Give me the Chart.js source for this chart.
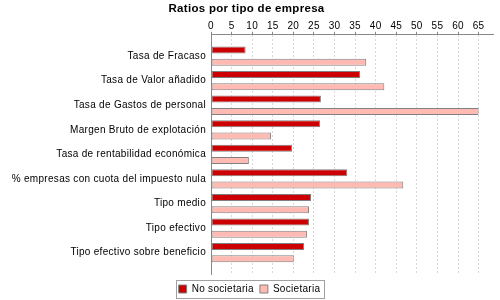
<!DOCTYPE html>
<html lang="es">
<head>
    <meta charset="UTF-8">
    <title>Ratios por tipo de empresa</title>
    <script src="https://cdn.jsdelivr.net/npm/chart.js"></script>
    <style>
        html, body { margin: 0; padding: 0; background: #fff; }
        .chart-box { width: 500px; height: 300px; }
    </style>
</head>
<body>
    <div class="chart-box">
        <canvas id="ratiosChart"></canvas>
    </div>

    <script>
        const categories = [
            'Tasa de Fracaso',
            'Tasa de Valor añadido',
            'Tasa de Gastos de personal',
            'Margen Bruto de explotación',
            'Tasa de rentabilidad económica',
            '% empresas con cuota del impuesto nula',
            'Tipo medio',
            'Tipo efectivo',
            'Tipo efectivo sobre beneficio'
        ];
        const noSocietaria = [8.4, 36.2, 26.7, 26.5, 19.7, 33.1, 24.3, 23.8, 22.6];
        const societaria = [37.7, 42.1, 65.0, 14.6, 9.2, 46.7, 23.8, 23.3, 20.1];
        const seriesNames = ['No societaria', 'Societaria'];

        const fontFamily = '"Liberation Sans", Arial, sans-serif';

        // text in the original is drawn a little wider than normal
        const textSpacing = {
            id: 'textSpacing',
            beforeUpdate(chart) { chart.ctx.letterSpacing = '0.3px'; },
            beforeDraw(chart) { chart.ctx.letterSpacing = '0.3px'; }
        };

        // category axis keeps a small empty margin at both ends of the plot,
        // and the legend sits a bit lower / further right than Chart.js puts it
        const categoryMargin = {
            id: 'categoryMargin',
            afterLayout(chart) {
                const y = chart.scales.y;
                y._startPixel = y.top + 9;
                y._endPixel = y.bottom - 9;
                y._length = y._endPixel - y._startPixel;
                chart.legend.top += 4;
                chart.legend.bottom += 4;
                chart.legend.left += 3;
                chart.legend.right += 3;
            }
        };

        // thin grey frame round the legend
        const legendFrame = {
            id: 'legendFrame',
            afterDraw(chart) {
                const boxes = chart.legend.legendHitBoxes;
                if (!boxes || !boxes.length) return;
                const left = Math.min(...boxes.map(b => b.left)) - 3;
                const right = Math.max(...boxes.map(b => b.left + b.width)) + 3;
                const top = Math.min(...boxes.map(b => b.top)) - 4;
                const bottom = Math.max(...boxes.map(b => b.top + b.height)) + 4;
                const ctx = chart.ctx;
                ctx.save();
                ctx.strokeStyle = '#a0a0a0';
                ctx.lineWidth = 1;
                ctx.strokeRect(Math.round(left) + 0.5, Math.round(top) + 0.5,
                    Math.round(right - left), Math.round(bottom - top));
                ctx.restore();
            }
        };

        const ctx = document.getElementById('ratiosChart').getContext('2d');
        new Chart(ctx, {
            type: 'bar',
            data: {
                labels: categories,
                datasets: [{
                    label: seriesNames[0],
                    data: noSocietaria,
                    backgroundColor: '#cc0000',
                    borderColor: '#808080',
                    borderWidth: 1,
                    borderSkipped: false
                },
                {
                    label: seriesNames[1],
                    data: societaria,
                    backgroundColor: '#ffbbb3',
                    borderColor: '#808080',
                    borderWidth: 1,
                    borderSkipped: false
                }]
            },
            options: {
                indexAxis: 'y',
                responsive: true,
                maintainAspectRatio: false,
                animation: false,
                layout: {
                    padding: { left: 0, right: 7, top: 2, bottom: 0 }
                },
                scales: {
                    x: {
                        position: 'top',
                        min: 0,
                        max: 68.5,
                        ticks: {
                            stepSize: 5,
                            includeBounds: false,
                            color: '#000',
                            padding: 0,
                            font: { family: fontFamily, size: 10 }
                        },
                        grid: {
                            color: '#d8d8d8',
                            tickColor: '#888',
                            tickLength: 3,
                            tickBorderDash: []
                        },
                        border: {
                            color: '#888',
                            dash: [2, 2]
                        }
                    },
                    y: {
                        offset: true,
                        ticks: {
                            color: '#000',
                            padding: 5,
                            font: { family: fontFamily, size: 10 }
                        },
                        grid: { display: false, drawTicks: false },
                        border: { color: '#888' },
                        afterFit(scale) {
                            scale.width = 211;
                        }
                    }
                },
                datasets: {
                    bar: {
                        categoryPercentage: 1.0,
                        barPercentage: 0.57
                    }
                },
                plugins: {
                    title: {
                        display: true,
                        text: 'Ratios por tipo de empresa',
                        color: '#000',
                        font: { family: fontFamily, size: 11.5, weight: 'bold' },
                        padding: { top: 0, bottom: 4 }
                    },
                    legend: {
                        position: 'bottom',
                        labels: {
                            boxWidth: 8,
                            boxHeight: 8,
                            padding: 6,
                            color: '#000',
                            font: { family: fontFamily, size: 10 }
                        }
                    },
                    tooltip: { enabled: false }
                }
            },
            plugins: [textSpacing, categoryMargin, legendFrame]
        });
    </script>
</body>
</html>
